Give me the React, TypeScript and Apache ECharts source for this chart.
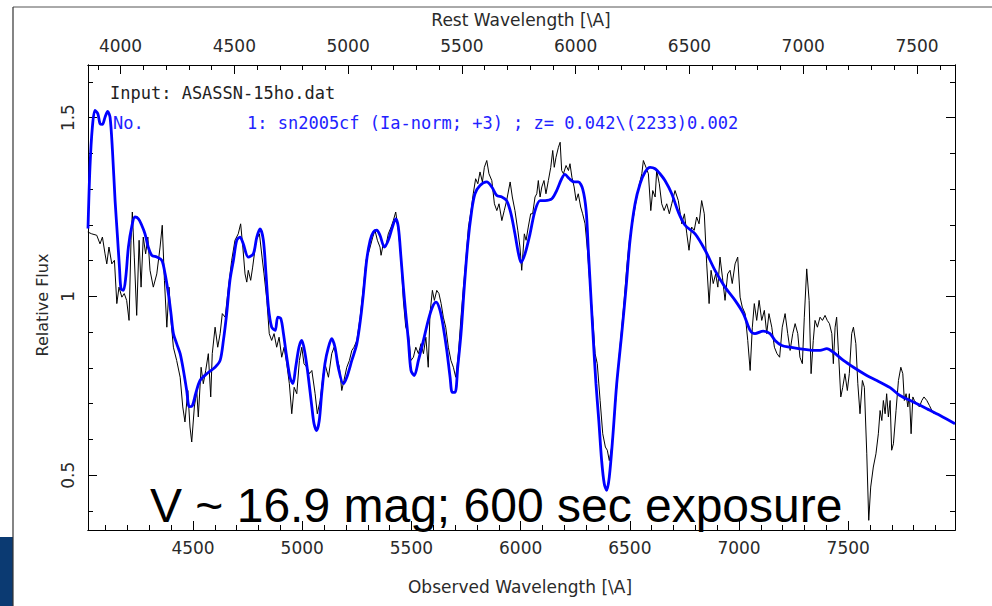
import React, { useEffect, useRef } from "react";
import * as echarts from "echarts";

// Observed spectrum (black)
const obsWave = [4018,4036,4059,4074,4085,4097,4105,4115,4128,4140,4151,4161,4174,4185,4196,4207,4216,4222,4231,4242,4253,4262,4272,4283,4293,4303,4318,4334,4349,4359,4369,4380,4390,4399,4410,4425,4441,4453,4463,4476,4486,4494,4506,4517,4524,4537,4547,4558,4570,4581,4588,4601,4613,4624,4634,4647,4662,4677,4692,4707,4718,4728,4738,4746,4753,4764,4773,4789,4804,4816,4825,4838,4849,4860,4871,4883,4894,4906,4917,4929,4941,4952,4963,4975,4987,4998,5008,5021,5033,5044,5059,5069,5082,5094,5104,5120,5135,5146,5158,5170,5181,5191,5204,5216,5227,5237,5250,5265,5280,5292,5307,5323,5333,5344,5356,5361,5371,5382,5394,5407,5417,5428,5440,5452,5463,5474,5486,5498,5509,5520,5532,5544,5555,5566,5577,5585,5596,5605,5616,5626,5636,5646,5657,5669,5681,5692,5703,5715,5727,5738,5749,5761,5773,5783,5794,5804,5814,5825,5834,5845,5855,5868,5880,5891,5901,5914,5925,5936,5952,5962,5974,5987,5997,6005,6017,6025,6035,6046,6055,6066,6074,6081,6089,6097,6107,6116,6127,6138,6147,6154,6162,6173,6181,6188,6196,6208,6219,6226,6235,6245,6254,6264,6275,6284,6295,6306,6318,6330,6341,6351,6364,6376,6388,6397,6406,6417,6428,6440,6452,6463,6474,6486,6498,6509,6519,6532,6544,6555,6562,6574,6585,6596,6605,6616,6623,6635,6646,6657,6669,6681,6692,6707,6722,6738,6750,6761,6771,6783,6795,6806,6817,6829,6841,6852,6863,6872,6882,6893,6903,6913,6924,6936,6948,6959,6969,6982,6994,7005,7015,7028,7040,7051,7061,7070,7081,7092,7104,7116,7127,7137,7150,7162,7174,7186,7198,7211,7223,7234,7246,7257,7269,7279,7290,7299,7310,7321,7330,7340,7348,7359,7371,7382,7394,7404,7414,7425,7432,7440,7447,7455,7466,7475,7485,7496,7505,7516,7524,7535,7544,7554,7565,7574,7585,7594,7603,7615,7627,7638,7646,7654,7661,7669,7676,7684,7692,7699,7707,7719,7730,7741,7750,7757,7765,7773,7780,7788,7796,7803,7814,7826,7837,7847,7860,7872,7883,7893];
const obsFlux = [1.180,1.175,1.171,1.147,1.166,1.119,1.091,1.138,1.091,1.101,0.980,1.026,0.998,1.008,0.989,0.933,1.157,1.236,1.110,0.947,1.157,1.026,1.166,1.119,1.166,1.073,1.026,1.063,1.138,1.199,1.045,0.914,1.026,0.933,0.858,0.821,0.774,0.691,0.649,0.737,0.635,0.593,0.691,0.737,0.663,0.802,0.756,0.793,0.840,0.719,0.840,0.914,0.858,0.896,0.952,0.942,1.026,1.101,1.157,1.175,1.203,1.138,1.063,1.040,1.073,1.045,1.082,1.157,1.175,1.110,1.063,0.989,0.896,0.877,0.896,0.858,0.886,0.830,0.858,0.812,0.756,0.672,0.746,0.728,0.821,0.858,0.812,0.802,0.784,0.793,0.728,0.672,0.709,0.774,0.812,0.774,0.840,0.858,0.830,0.802,0.737,0.765,0.802,0.821,0.849,0.858,0.877,0.942,1.026,1.101,1.129,1.166,1.185,1.157,1.138,1.115,1.147,1.138,1.175,1.194,1.212,1.236,1.185,1.110,0.989,0.914,0.896,0.821,0.830,0.858,0.840,0.868,0.840,0.886,0.802,0.952,1.017,0.989,1.017,1.008,0.980,0.942,0.914,0.858,0.821,0.802,0.774,0.840,0.942,1.026,1.101,1.194,1.240,1.287,1.329,1.315,1.348,1.320,1.361,1.380,1.343,1.324,1.259,1.240,1.259,1.212,1.240,1.268,1.320,1.278,1.240,1.185,1.138,1.073,1.175,1.157,1.194,1.231,1.231,1.278,1.287,1.324,1.278,1.306,1.324,1.287,1.324,1.361,1.408,1.361,1.389,1.417,1.431,1.352,1.343,1.366,1.352,1.371,1.333,1.306,1.268,1.287,1.250,1.231,1.203,1.129,1.026,0.942,0.840,0.812,0.709,0.616,0.579,0.570,0.541,0.579,0.653,0.746,0.840,0.914,0.989,1.082,1.157,1.194,1.231,1.278,1.315,1.343,1.380,1.361,1.343,1.240,1.296,1.278,1.352,1.315,1.259,1.240,1.259,1.231,1.259,1.296,1.268,1.203,1.231,1.175,1.129,1.194,1.185,1.222,1.203,1.268,1.231,1.091,0.980,1.073,1.036,1.063,1.026,1.110,1.054,0.989,1.063,1.073,1.036,1.091,1.110,0.998,0.970,0.952,0.877,0.793,0.914,0.980,0.933,0.989,0.933,0.961,0.896,0.952,0.914,0.858,0.840,0.830,0.914,0.952,0.896,0.849,0.896,0.924,0.896,0.830,0.812,0.942,1.077,0.989,0.784,0.877,0.933,0.914,0.942,0.933,0.947,0.933,0.924,0.896,0.812,0.914,0.942,0.849,0.719,0.746,0.784,0.737,0.784,0.896,0.914,0.868,0.756,0.672,0.765,0.746,0.560,0.374,0.467,0.523,0.560,0.616,0.681,0.653,0.709,0.672,0.728,0.663,0.709,0.570,0.588,0.681,0.765,0.802,0.784,0.709,0.728,0.691,0.728,0.616,0.719,0.709,0.700,0.691,0.709,0.719,0.709,0.695,0.681,0.672];

// Template sn2005cf (blue)
const tplWave = [4019,4028,4039,4051,4064,4074,4085,4097,4109,4120,4131,4143,4153,4163,4170,4181,4192,4204,4219,4234,4250,4265,4280,4295,4311,4334,4357,4372,4387,4399,4410,4425,4441,4456,4471,4483,4497,4512,4532,4563,4601,4624,4639,4654,4669,4685,4700,4715,4730,4753,4776,4792,4807,4822,4834,4845,4860,4876,4888,4902,4914,4929,4944,4957,4970,4985,4998,5013,5028,5044,5054,5066,5078,5089,5104,5120,5135,5150,5165,5188,5204,5227,5250,5268,5280,5295,5311,5326,5341,5356,5376,5394,5413,5428,5440,5452,5463,5474,5486,5498,5513,5532,5555,5577,5596,5613,5631,5646,5662,5677,5687,5700,5712,5727,5742,5758,5776,5791,5814,5845,5868,5891,5914,5936,5956,5974,5990,6002,6020,6043,6066,6089,6112,6143,6165,6188,6203,6223,6245,6264,6284,6300,6310,6321,6333,6345,6358,6371,6383,6394,6406,6422,6440,6463,6483,6501,6524,6547,6570,6593,6616,6638,6661,6692,6722,6753,6799,6845,6890,6936,6982,7020,7051,7073,7111,7142,7165,7196,7234,7272,7310,7348,7371,7402,7432,7478,7524,7585,7631,7692,7737,7798,7860,7921,7989];
const tplFlux = [1.190,1.361,1.473,1.520,1.511,1.483,1.481,1.501,1.517,1.501,1.408,1.268,1.176,1.082,1.022,1.017,1.054,1.138,1.194,1.222,1.217,1.199,1.175,1.138,1.115,1.110,1.101,1.063,1.008,0.952,0.896,0.868,0.840,0.793,0.737,0.692,0.695,0.728,0.765,0.784,0.802,0.821,0.877,0.952,1.045,1.101,1.157,1.166,1.147,1.110,1.119,1.166,1.189,1.157,1.063,0.970,0.914,0.905,0.942,0.938,0.896,0.830,0.774,0.756,0.802,0.858,0.877,0.840,0.774,0.691,0.644,0.625,0.653,0.728,0.812,0.858,0.882,0.858,0.802,0.756,0.774,0.821,0.868,0.942,1.008,1.101,1.157,1.180,1.185,1.171,1.138,1.157,1.194,1.217,1.194,1.110,1.026,0.952,0.877,0.793,0.779,0.821,0.877,0.933,0.970,0.984,0.961,0.914,0.849,0.774,0.732,0.732,0.802,0.896,1.026,1.147,1.240,1.287,1.310,1.320,1.306,1.282,1.278,1.268,1.231,1.175,1.120,1.095,1.119,1.175,1.240,1.268,1.268,1.273,1.296,1.329,1.341,1.329,1.320,1.320,1.301,1.240,1.129,1.008,0.877,0.756,0.653,0.541,0.476,0.458,0.495,0.607,0.756,0.896,1.026,1.157,1.259,1.315,1.348,1.361,1.357,1.343,1.324,1.287,1.236,1.199,1.175,1.129,1.073,1.026,0.989,0.952,0.905,0.896,0.903,0.896,0.877,0.863,0.858,0.854,0.851,0.849,0.849,0.854,0.844,0.821,0.802,0.779,0.765,0.745,0.723,0.705,0.686,0.667,0.644];

// Axis ranges and ticks
const obsMin = 4019;
const obsMax = 7989;
const redshift = 0.042;
const obsMajor = [4500, 5000, 5500, 6000, 6500, 7000, 7500];
const obsMinor = [4100,4200,4300,4400,4500,4600,4700,4800,4900,5000,5100,5200,5300,5400,5500,5600,5700,5800,5900,6000,6100,6200,6300,6400,6500,6600,6700,6800,6900,7000,7100,7200,7300,7400,7500,7600,7700,7800,7900];
const restMajor = [4000, 4500, 5000, 5500, 6000, 6500, 7000, 7500];
const restMinor = [3900,4000,4100,4200,4300,4400,4500,4600,4700,4800,4900,5000,5100,5200,5300,5400,5500,5600,5700,5800,5900,6000,6100,6200,6300,6400,6500,6600,6700,6800,6900,7000,7100,7200,7300,7400,7500,7600];
const fluxMin = 0.347;
const fluxMax = 1.647;
const fluxMajor = [0.5, 1, 1.5];
const fluxMinor = [0.4,0.5,0.6,0.7,0.8,0.9,1.0,1.1,1.2,1.3,1.4,1.5,1.6];

const LABEL_FONT = "DejaVu Sans";
const MONO = "DejaVu Sans Mono";

function zip(a: number[], b: number[]) {
  return a.map((v, i) => [v, b[i]]);
}

export default function App() {
  const ref = useRef<HTMLDivElement>(null);
  useEffect(() => {
    if (!ref.current) return;
    const chart = echarts.init(ref.current, null, { renderer: "svg" });
    const lineCol = "#000";
    const labelStyle = { fontFamily: LABEL_FONT, fontSize: 17, color: "#2a2a2a" };
    const mkX = (pos: string, min: number, max: number, ticks: number[], len: number, labels: number[] | null, margin: number) => ({
      type: "value",
      position: pos,
      min,
      max,
      axisLine: { show: true, onZero: false, lineStyle: { color: lineCol, width: 1 } },
      axisTick: { show: true, inside: true, length: len, customValues: ticks, lineStyle: { color: lineCol, width: 1 } },
      axisLabel: labels
        ? { show: true, customValues: labels, formatter: (v: number) => String(v), margin, ...labelStyle }
        : { show: false },
      splitLine: { show: false },
    });
    const mkY = (pos: string, ticks: number[], len: number, labels: number[] | null) => ({
      type: "value",
      position: pos,
      min: fluxMin,
      max: fluxMax,
      axisLine: { show: true, onZero: false, lineStyle: { color: lineCol, width: 1 } },
      axisTick: { show: true, inside: true, length: len, customValues: ticks, lineStyle: { color: lineCol, width: 1 } },
      axisLabel: labels
        ? { show: true, customValues: labels, rotate: 90, margin: 12, formatter: (v: number) => String(v), ...labelStyle }
        : { show: false },
      splitLine: { show: false },
    });
    const restMin = obsMin / (1 + redshift);
    const restMax = obsMax / (1 + redshift);
    chart.setOption({
      animation: false,
      backgroundColor: "#ffffff",
      grid: { left: 88, top: 65, width: 867, height: 465, containLabel: false },
      xAxis: [
        mkX("bottom", obsMin, obsMax, obsMajor, 9, obsMajor, 9),
        mkX("bottom", obsMin, obsMax, obsMinor, 5, null, 0),
        mkX("top", restMin, restMax, restMajor, 9, restMajor, 11),
        mkX("top", restMin, restMax, restMinor, 5, null, 0),
      ],
      yAxis: [
        mkY("left", fluxMajor, 9, fluxMajor),
        mkY("left", fluxMinor, 5, null),
        mkY("right", fluxMajor, 9, null),
        mkY("right", fluxMinor, 5, null),
      ],
      series: [
        {
          type: "line",
          name: "ASASSN-15ho",
          xAxisIndex: 0,
          yAxisIndex: 0,
          data: zip(obsWave, obsFlux),
          showSymbol: false,
          symbol: "none",
          lineStyle: { color: "#000", width: 1 },
          z: 2,
        },
        {
          type: "line",
          name: "sn2005cf",
          xAxisIndex: 0,
          yAxisIndex: 0,
          data: zip(tplWave, tplFlux),
          showSymbol: false,
          symbol: "none",
          smooth: 0.3,
          lineStyle: { color: "#0000ff", width: 2.8 },
          z: 3,
        },
      ],
      graphic: [
        { type: "rect", shape: { x: 0, y: 537, width: 13, height: 69 }, style: { fill: "#0b3a72" }, z: 10 },
        { type: "line", shape: { x1: 13, y1: 7, x2: 992, y2: 7 }, style: { stroke: "#555", lineWidth: 1 }, z: 10 },
        { type: "line", shape: { x1: 13, y1: 7, x2: 13, y2: 606 }, style: { stroke: "#333", lineWidth: 1.2 }, z: 10 },
        {
          type: "text", x: 521, y: 20, z: 10,
          style: { text: "Rest Wavelength [\\A]", fill: "#2a2a2a", font: `17px ${LABEL_FONT}`, textAlign: "center", textVerticalAlign: "middle" },
        },
        {
          type: "text", x: 520, y: 587, z: 10,
          style: { text: "Observed Wavelength [\\A]", fill: "#2a2a2a", font: `17px ${LABEL_FONT}`, textAlign: "center", textVerticalAlign: "middle" },
        },
        {
          type: "text", x: 42, y: 305, rotation: Math.PI / 2, z: 10,
          style: { text: "Relative Flux", fill: "#2a2a2a", font: `16px ${LABEL_FONT}`, textAlign: "center", textVerticalAlign: "middle" },
        },
        {
          type: "text", x: 110, y: 93, z: 10,
          style: { text: "Input: ASASSN-15ho.dat", fill: "#222", font: `17px ${MONO}`, textAlign: "left", textVerticalAlign: "middle" },
        },
        {
          type: "text", x: 113, y: 123, z: 10,
          style: { text: "No.", fill: "#2222ff", font: `17px ${MONO}`, textAlign: "left", textVerticalAlign: "middle" },
        },
        {
          type: "text", x: 247, y: 123, z: 10,
          style: { text: "1: sn2005cf (Ia-norm; +3) ; z= 0.042\\(2233)0.002", fill: "#2222ff", font: `17px ${MONO}`, textAlign: "left", textVerticalAlign: "middle" },
        },
        {
          type: "text", x: 150, y: 505, z: 10,
          style: { text: "V ~ 16.9 mag; 600 sec exposure", fill: "#000", font: `48px "Liberation Sans"`, textAlign: "left", textVerticalAlign: "middle" },
        },
      ],
    });
    return () => chart.dispose();
  }, []);
  return (
    <div
      ref={ref}
      style={{ position: "fixed", left: 0, top: 0, width: 992, height: 606, background: "#fff" }}
    />
  );
}
